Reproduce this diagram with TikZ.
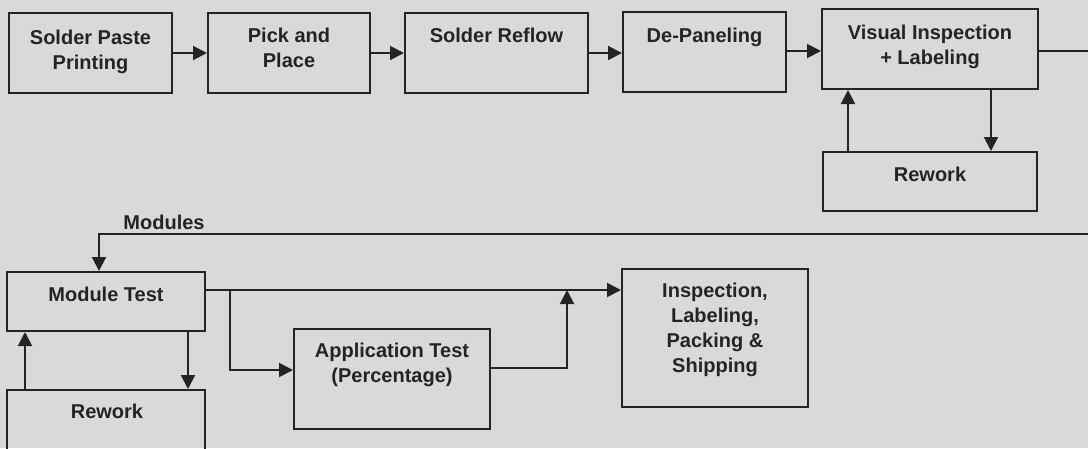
\documentclass[tikz,border=0pt]{standalone}
\usepackage{fontspec}
\setmainfont{Liberation Sans}
\usetikzlibrary{arrows.meta}
\definecolor{bg}{RGB}{217,217,217}
\definecolor{ink}{RGB}{36,36,36}
\begin{document}
\begin{tikzpicture}[x=1pt,y=-1pt,
 box/.style={draw=ink, line width=2pt, inner sep=0pt},
 txt/.style={font=\fontsize{20}{25}\selectfont\bfseries, text=ink, align=center, inner sep=0pt, anchor=north},
 arr/.style={draw=ink, line width=2pt, -{Triangle[length=14pt,width=14pt]}}]
\fill[bg] (0,0) rectangle (1088,448);
\useasboundingbox (0,0) rectangle (1088,448);
\clip (0,0) rectangle (1088,448);
% boxes
\node[box, minimum width=163pt, minimum height=80pt] (spp) at (90.5,53) {};
\node[box, minimum width=162pt, minimum height=80pt] (pnp) at (289,53) {};
\node[box, minimum width=183pt, minimum height=80pt] (sr) at (496.5,53) {};
\node[box, minimum width=163pt, minimum height=80pt] (dp) at (704.5,52) {};
\node[box, minimum width=216pt, minimum height=80pt] (vi) at (930,49) {};
\node[box, minimum width=214pt, minimum height=59pt] (rw1) at (930,181.5) {};
\node[box, minimum width=198pt, minimum height=59pt] (mt) at (106,301.5) {};
\node[box, minimum width=198pt, minimum height=80pt] (rw2) at (106,430) {};
\node[box, minimum width=196pt, minimum height=100pt] (at) at (392,379) {};
\node[box, minimum width=186pt, minimum height=138pt] (isp) at (715,338) {};
% texts
\node[txt] (spp-t) at (90.5,30) {Solder Paste\\Printing};
\node[txt] (pnp-t) at (289,28) {Pick and\\Place};
\node[txt] (sr-t) at (496.5,28) {Solder Reflow};
\node[txt] (dp-t) at (704.5,28) {De-Paneling};
\node[txt] (vi-t) at (930,25) {Visual Inspection\\+ Labeling};
\node[txt] (rw1-t) at (930,167) {Rework};
\node[txt] (mt-t) at (106,287) {Module Test};
\node[txt] (rw2-t) at (107,404) {Rework};
\node[txt] (at-t) at (392,343) {Application Test\\(Percentage)};
\node[txt] (isp-t) at (715,283) {Inspection,\\Labeling,\\Packing \&\\Shipping};
\node[txt] (mod-t) at (164,215) {Modules};
% helper coordinates
\coordinate (c991) at (991,0);
\coordinate (c848) at (848,0);
\coordinate (c188) at (188,0);
\coordinate (c25) at (25,0);
\coordinate (offR) at (1110,234);
\coordinate (modc) at (99,234);
\coordinate (j1) at (230,290);
\coordinate (j2) at (567,290);
% connectors
\draw[arr] (spp.east) -- (pnp.west);
\draw[arr] (pnp.east) -- (sr.west);
\draw[arr] (sr.east) -- (sr.east -| dp.west);
\draw[arr] ([yshift=1pt]dp.east) -- ([yshift=1pt]dp.east -| vi.west);
\draw[arr] (vi.south -| c991) -- (rw1.north -| c991);
\draw[arr] (rw1.north -| c848) -- (vi.south -| c848);
\draw[arr] ([yshift=-2pt]vi.east) -| (offR) -- (modc) -- (mt.north -| modc);
\draw[arr] (mt.south -| c188) -- (rw2.north -| c188);
\draw[arr] (rw2.north -| c25) -- (mt.south -| c25);
\draw[arr] (mt.east |- j1) -- (isp.west |- j1);
\draw[arr] (j1) |- ([yshift=9pt]at.west);
\draw[arr] ([yshift=11pt]at.east) -| (j2);
\end{tikzpicture}
\end{document}
